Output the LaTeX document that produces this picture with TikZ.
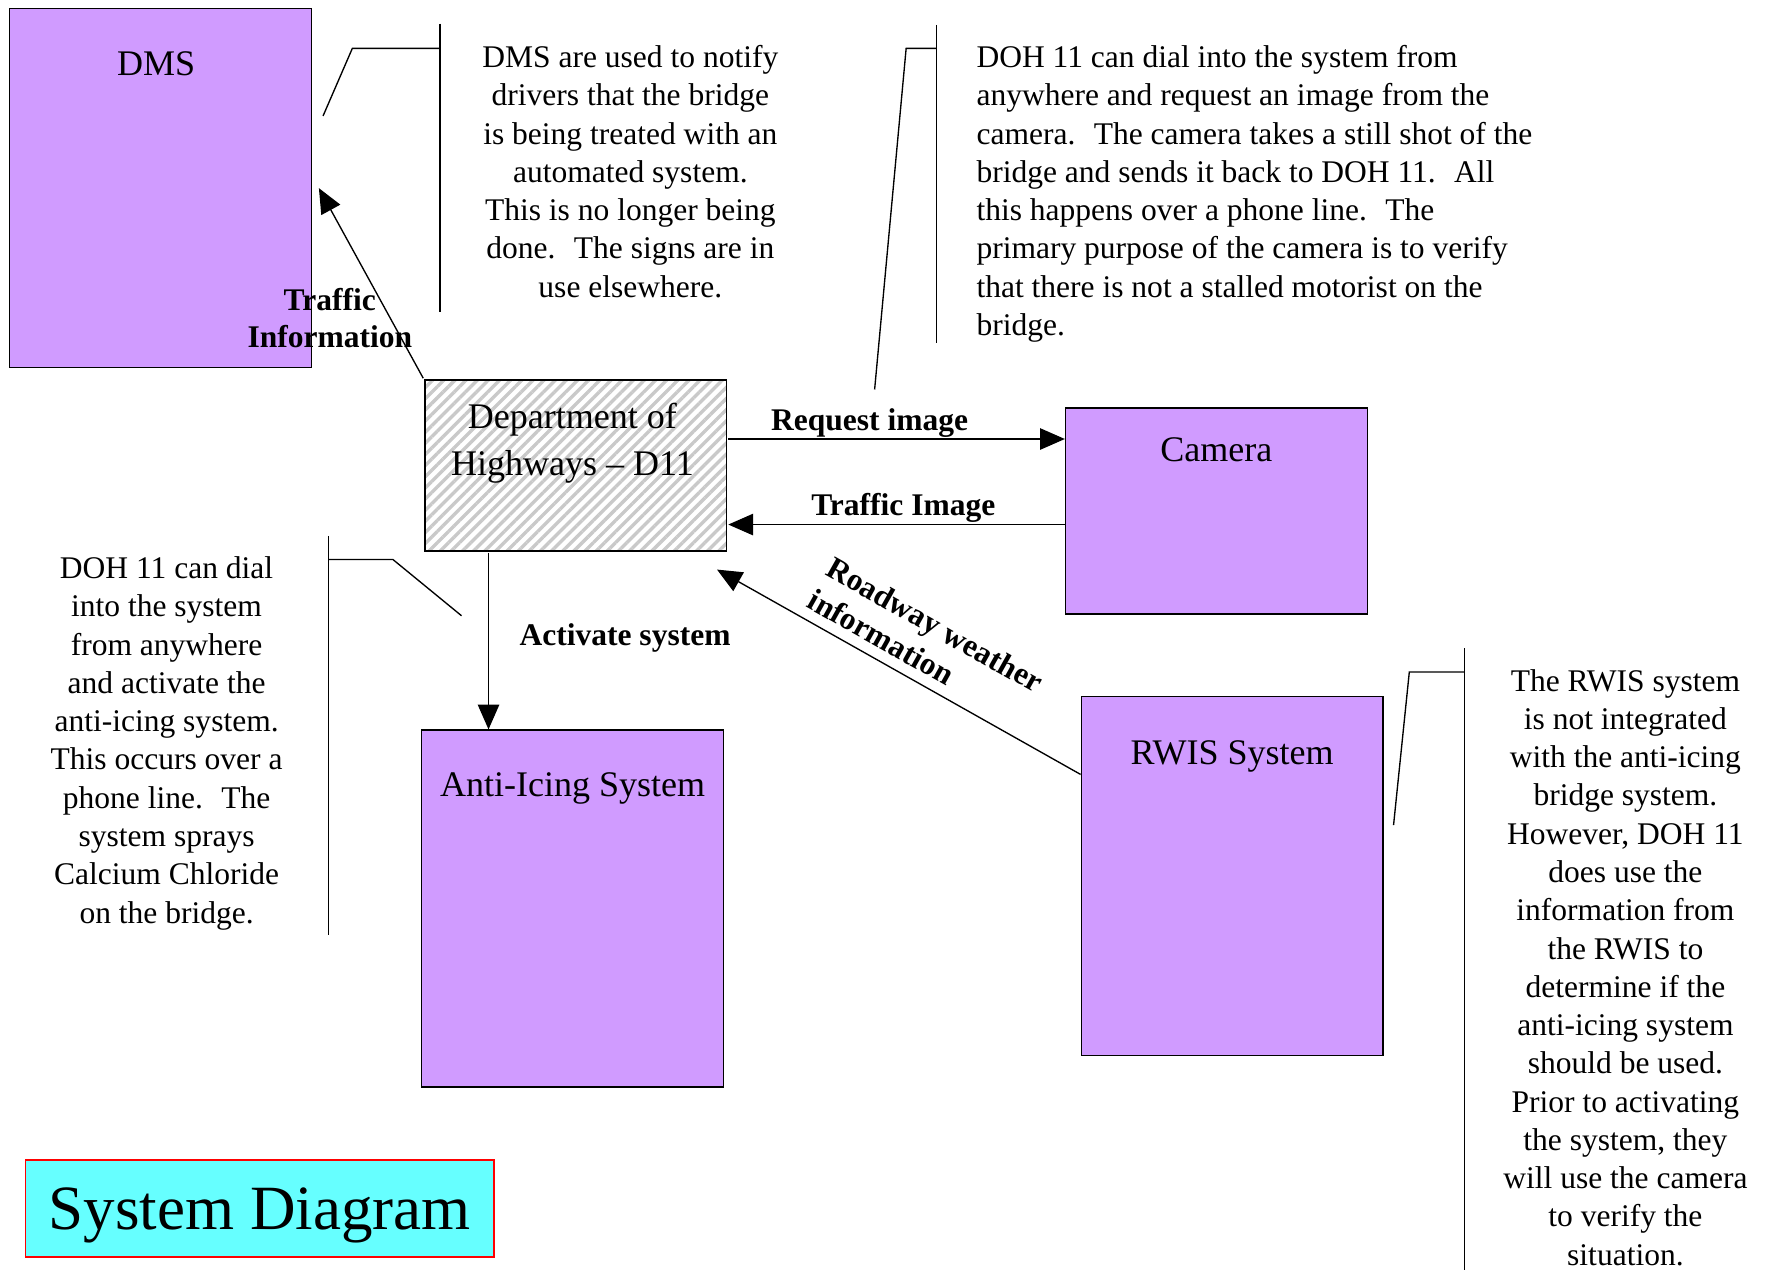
\documentclass[tikz,border=0pt]{standalone}
\usepackage{fontspec}
\setmainfont{Liberation Serif}
\usetikzlibrary{arrows.meta,patterns.meta}
\definecolor{boxpurple}{RGB}{208,155,255}
\definecolor{titlecyan}{RGB}{102,255,255}
\tikzset{
    every node/.style={font=\fontsize{28}{34}\selectfont},
    sysbox/.style={draw, rectangle, fill=boxpurple, line width=1.3pt, anchor=north west, inner sep=0pt, minimum width=268pt},
    boxlabel/.style={anchor=base, align=center, font=\fontsize{32}{41}\selectfont},
    notetext/.style={anchor=base, align=center},
    flow/.style={-{Triangle[length=22pt,width=19pt]}, line width=1.2pt},
    flowlabel/.style={font=\bfseries\fontsize{28}{33}\selectfont, inner sep=1pt},
    callout/.style={line width=1.2pt}
}

\begin{document}
\begin{tikzpicture}[x=1pt, y=-1pt]
    \useasboundingbox (0,0) rectangle (1568,1128);

    % the five boxes
    \node[sysbox, minimum height=319pt] (dms) at (8,7) {};
    \node[boxlabel] (dmstext) at ([xshift=-4pt, yshift=-60pt]dms.north) {DMS};
    \node[draw, rectangle, anchor=north west, inner sep=0pt, minimum width=268pt, minimum height=152pt, line width=1.3pt,
          pattern={Lines[angle=45,distance=7pt,line width=3pt]}, pattern color=gray!42] (doh) at (376,336) {};
    \node[boxlabel] (dohtext) at ([xshift=-3pt, yshift=-86pt]doh.north) {Department of\\Highways – D11};
    \node[sysbox, minimum height=183pt] (cam) at (946,362) {};
    \node[boxlabel] (camtext) at ([yshift=-48pt]cam.north) {Camera};
    \node[sysbox, minimum height=317pt] (anti) at (374,648) {};
    \node[boxlabel] (antitext) at ([yshift=-60pt]anti.north) {Anti-Icing System};
    \node[sysbox, minimum height=319pt] (rwis) at (960,618) {};
    \node[boxlabel] (rwistext) at ([yshift=-61pt]rwis.north) {RWIS System};

    % flows
    \draw[flow] (doh.north west) -- ([xshift=6pt]dms.east);
    \node[flowlabel, anchor=base, align=center] (trafinfo) at (293,309) {Traffic\\Information};
    \draw[flow] (doh.east |- 0,390) -- node[flowlabel, pos=.42, above] (reqlbl) {Request image} (cam.west |- 0,390);
    \draw[flow] (cam.west |- 0,466) -- node[flowlabel, pos=.48, above] (imglbl) {Traffic Image} (doh.east |- 0,466);
    \draw[flow] (doh.south -| 434,0) -- node[flowlabel, pos=.48, right=26pt] (actlbl) {Activate system} (anti.north -| 434,0);
    \draw[flow] (rwis.west |- 0,688) -- node[flowlabel, pos=.48, sloped, above=8pt, align=left] (rwlbl) {Roadway weather\\information} ([shift={(-10,15)}]doh.south east);

    % notes
    \node[notetext] (dmsnote) at (560,264) {DMS are used to notify\\drivers that the bridge\\is being treated with an\\automated system.\\This is no longer being\\done.~ The signs are in\\use elsewhere.};
    \draw[callout] (391,21) -- (391,277);
    \draw[callout] (391,43) -- (313,43) -- (287,103);

    \node[notetext, anchor=base west, align=left] (camnote) at (864,298) {DOH 11 can dial into the system from\\anywhere and request an image from the\\camera.~ The camera takes a still shot of the\\bridge and sends it back to DOH 11.~ All\\this happens over a phone line.~ The\\primary purpose of the camera is to verify\\that there is not a stalled motorist on the\\bridge.};
    \draw[callout] (832,22) -- (832,305);
    \draw[callout] (832,43) -- (805,43) -- (777,346);

    \node[notetext] (antinote) at (148,820) {DOH 11 can dial\\into the system\\from anywhere\\and activate the\\anti-icing system.\\This occurs over a\\phone line.~ The\\system sprays\\Calcium Chloride\\on the bridge.};
    \draw[callout] (292,476) -- (292,831);
    \draw[callout] (292,497) -- (349,497) -- (410,547);

    \node[notetext] (rwisnote) at (1444,1124) {The RWIS system\\is not integrated\\with the anti-icing\\bridge system.\\However, DOH 11\\does use the\\information from\\the RWIS to\\determine if the\\anti-icing system\\should be used.\\Prior to activating\\the system, they\\will use the camera\\to verify the\\situation.};
    \draw[callout] (1301,576) -- (1301,1128);
    \draw[callout] (1301,597) -- (1252,597) -- (1238,733);

    % title
    \node[draw=red, fill=titlecyan, line width=1.5pt, anchor=north west, inner sep=0pt, minimum width=416pt, minimum height=86pt,
          text depth=0pt, font=\fontsize{56}{60}\selectfont] (title) at (22,1030) {System Diagram};
\end{tikzpicture}
\end{document}
